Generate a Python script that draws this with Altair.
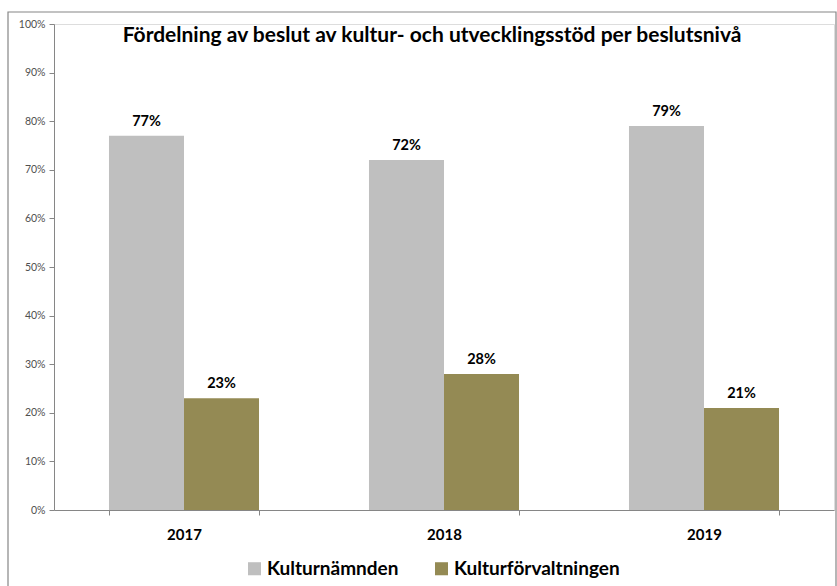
import altair as alt
import pandas as pd

years = ["2017", "2018", "2019"]
series = ["Kulturnämnden", "Kulturförvaltningen"]
kulturnamnden = [0.77, 0.72, 0.79]
kulturforvaltningen = [0.23, 0.28, 0.21]
labels_kn = ["77%", "72%", "79%"]
labels_kf = ["23%", "28%", "21%"]
colors = ["#BFBFBF", "#948A54"]
title_text = "Fördelning av beslut av kultur- och utvecklingsstöd per beslutsnivå"

rows = []
for i, y in enumerate(years):
    rows.append({"year": y, "series": series[0], "value": kulturnamnden[i], "label": labels_kn[i]})
    rows.append({"year": y, "series": series[1], "value": kulturforvaltningen[i], "label": labels_kf[i]})
df = pd.DataFrame(rows)

FONT = "Lato"

x_enc = alt.X("year:N", sort=years, title=None,
              scale=alt.Scale(paddingInner=0.423, paddingOuter=0.2115),
              axis=alt.Axis(labelAngle=0, labelFont=FONT, labelFontSize=15, labelFontWeight="bold",
                            labelColor="#000000", labelPadding=12, tickBand="extent",
                            domainColor="#868686", tickColor="#868686", tickSize=5))
xo_enc = alt.XOffset("series:N", sort=series, scale=alt.Scale(paddingInner=0, paddingOuter=0))
y_enc = alt.Y("value:Q", title=None,
              scale=alt.Scale(domain=[0, 1], nice=False),
              axis=alt.Axis(format=".0%", values=[i / 10 for i in range(11)], grid=False,
                            labelFont=FONT, labelFontSize=10.5, labelColor="#505050",
                            domainColor="#868686", tickColor="#868686", tickSize=5, labelPadding=4))

bars = alt.Chart(df).mark_bar().encode(
    x=x_enc, xOffset=xo_enc, y=y_enc,
    color=alt.Color("series:N", sort=series, title=None,
                    scale=alt.Scale(domain=series, range=colors),
                    legend=alt.Legend(orient="none", legendX=191, legendY=535, direction="horizontal",
                                      symbolType="square", symbolSize=170, symbolStrokeWidth=0,
                                      labelFont=FONT, labelFontSize=19, labelFontWeight="bold",
                                      labelColor="#000000", columnPadding=33, labelOffset=3,
                                      labelLimit=400)),
)

text = alt.Chart(df).mark_text(font=FONT, fontSize=14.5, fontWeight="bold", color="#000000",
                               baseline="bottom", dy=-7).encode(
    x=alt.X("year:N", sort=years), xOffset=alt.XOffset("series:N", sort=series), y="value:Q",
    text="label:N",
)

frame = alt.Chart(pd.DataFrame({"a": [0]})).mark_rect(fill=None, stroke="#868686", strokeWidth=1.2).encode(
    x=alt.value(-46), x2=alt.value(782), y=alt.value(-12), y2=alt.value(600)
)

chart = alt.layer(frame, bars, text).properties(
    width=780, height=486,
    title=alt.TitleParams(title_text, font=FONT, fontSize=21, fontWeight="bold", color="#000000",
                          anchor="middle", dx=-12, dy=46, offset=0, baseline="middle"),
    autosize=alt.AutoSizeParams(type="none"),
    padding={"left": 54, "top": 24, "right": 3, "bottom": 76},
).configure_view(stroke=None).configure(background="white")

chart.save("out.html", embed_options={"renderer": "svg", "actions": False})
